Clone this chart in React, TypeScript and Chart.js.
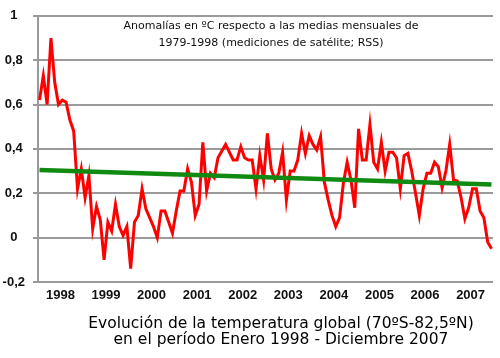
import { useEffect, useRef } from "react";
import { Chart, registerables } from "chart.js";

Chart.register(...registerables);

// Years shown on the x axis (one label per year, centred mid-year)
const years = ["1998", "1999", "2000", "2001", "2002", "2003", "2004", "2005", "2006", "2007"];

// Monthly anomalies (ºC) Jan 1998 – Dec 2007
const anomalies = [
  0.62, 0.73, 0.6, 0.9, 0.7, 0.6, 0.62, 0.61, 0.53, 0.48, 0.22, 0.31,
  0.18, 0.28, 0.04, 0.14, 0.08, -0.1, 0.07, 0.03, 0.15, 0.05, 0.01, 0.05,
  -0.14, 0.07, 0.1, 0.22, 0.13, 0.09, 0.05, 0.0, 0.12, 0.12, 0.07, 0.02,
  0.12, 0.21, 0.21, 0.31, 0.25, 0.1, 0.15, 0.43, 0.21, 0.29, 0.27, 0.36,
  0.39, 0.42, 0.385, 0.35, 0.35, 0.41, 0.36, 0.35, 0.35, 0.22, 0.37, 0.26,
  0.47, 0.31, 0.26, 0.29, 0.385, 0.17, 0.3, 0.3, 0.35, 0.47, 0.38, 0.46,
  0.42, 0.395, 0.455, 0.25, 0.17, 0.1, 0.05, 0.09, 0.245, 0.34, 0.26, 0.135,
  0.49, 0.35, 0.35, 0.51, 0.34, 0.31, 0.43, 0.3, 0.385, 0.385, 0.36, 0.22,
  0.37, 0.38, 0.3, 0.2, 0.1, 0.22, 0.29, 0.29, 0.34, 0.32, 0.225, 0.3,
  0.42, 0.26, 0.255, 0.18, 0.085, 0.135, 0.22, 0.22, 0.12, 0.09, -0.02, -0.05,
];

// Linear trend end points (ºC)
const trendStart = 0.305;
const trendEnd = 0.24;

const annotationLines = [
  "Anomalías en ºC respecto a las medias mensuales de",
  "1979-1998 (mediciones de satélite; RSS)",
];
const titleLines = [
  "Evolución de la temperatura global (70ºS-82,5ºN)",
  "en el período Enero 1998 - Diciembre 2007",
];

const tickFont = { family: "'Liberation Sans', Arial, sans-serif", size: 13, weight: "bold" as const };

export default function App() {
  const ref = useRef<HTMLCanvasElement>(null);

  useEffect(() => {
    if (!ref.current) return;
    const chart = new Chart(ref.current, {
      type: "line",
      data: {
        datasets: [
          {
            label: "Tendencia",
            data: [
              { x: 0, y: trendStart },
              { x: anomalies.length - 1, y: trendEnd },
            ],
            borderColor: "#118a11",
            borderWidth: 4.5,
            pointRadius: 0,
            tension: 0,
          },
          {
            label: "Anomalía",
            data: anomalies.map((v, i) => ({ x: i, y: v })),
            borderColor: "#ff0000",
            borderWidth: 3,
            pointRadius: 0,
            tension: 0,
          },
        ],
      },
      options: {
        responsive: false,
        animation: false,
        layout: { padding: { left: 0, right: 7, top: 8, bottom: 46 } },
        plugins: { legend: { display: false }, tooltip: { enabled: false }, title: { display: false } },
        scales: {
          x: {
            type: "linear",
            min: -0.4,
            max: anomalies.length - 0.6,
            grid: { display: false, drawTicks: false },
            border: { display: false },
            afterBuildTicks: (s: any) => {
              s.ticks = years.map((_, k) => ({ value: 12 * k + 5.5 }));
            },
            afterFit: (s: any) => {
              s.height = 30;
            },
            ticks: {
              autoSkip: false,
              maxRotation: 0,
              padding: 6,
              color: "#111",
              font: tickFont,
              callback: (v: any) => {
                const k = Math.round((Number(v) - 5.5) / 12);
                return years[k] ?? "";
              },
            },
          },
          y: {
            min: -0.2,
            max: 1,
            afterFit: (s: any) => {
              s.width = 38;
            },
            grid: { color: "#9a9a9a", lineWidth: 2, tickLength: 5 },
            border: { color: "#9a9a9a", width: 2 },
            ticks: {
              stepSize: 0.2,
              padding: 8,
              crossAlign: "center",
              color: "#111",
              font: tickFont,
              callback: (v: any) => {
                let s = Number(v).toFixed(1);
                if (s.endsWith(".0")) s = s.slice(0, -2);
                if (s === "-0") s = "0";
                return s.replace(".", ",");
              },
            },
          },
        },
      },
    });
    return () => chart.destroy();
  }, []);

  return (
    <div style={{ position: "fixed", left: 0, top: 0, width: 500, height: 358, background: "#fff", overflow: "hidden" }}>
      <canvas ref={ref} width={500} height={358} style={{ display: "block" }} />
      <div
        style={{
          position: "absolute",
          left: 71,
          top: 17,
          width: 400,
          textAlign: "center",
          fontFamily: "'DejaVu Sans', sans-serif",
          fontSize: 11,
          lineHeight: "17px",
          color: "#111",
          whiteSpace: "nowrap",
        }}
      >
        {annotationLines.map((l) => (
          <div key={l}>{l}</div>
        ))}
      </div>
      <div
        style={{
          position: "absolute",
          left: 31,
          top: 315,
          width: 500,
          textAlign: "center",
          fontFamily: "'DejaVu Sans', sans-serif",
          fontSize: 15.5,
          lineHeight: "16px",
          color: "#000",
          whiteSpace: "nowrap",
        }}
      >
        {titleLines.map((l) => (
          <div key={l}>{l}</div>
        ))}
      </div>
    </div>
  );
}
